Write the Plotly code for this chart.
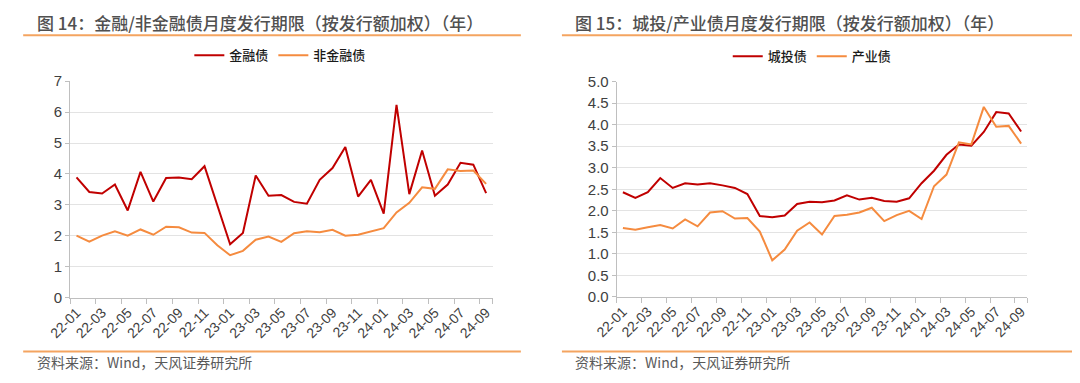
import plotly.graph_objects as go

months = ["22-01","22-02","22-03","22-04","22-05","22-06","22-07","22-08","22-09","22-10","22-11","22-12",
          "23-01","23-02","23-03","23-04","23-05","23-06","23-07","23-08","23-09","23-10","23-11","23-12",
          "24-01","24-02","24-03","24-04","24-05","24-06","24-07","24-08","24-09"]

fin = [3.89,3.42,3.37,3.66,2.82,4.07,3.11,3.87,3.89,3.83,4.25,2.99,
       1.73,2.10,3.95,3.30,3.32,3.10,3.04,3.81,4.19,4.87,3.27,3.81,
       2.72,6.23,3.35,4.76,3.30,3.66,4.36,4.30,3.38]
nonfin = [2.01,1.82,2.01,2.15,2.01,2.21,2.04,2.30,2.28,2.11,2.10,1.70,
          1.38,1.52,1.88,1.98,1.81,2.09,2.15,2.12,2.20,2.01,2.04,2.14,
          2.25,2.76,3.07,3.57,3.52,4.15,4.10,4.11,3.68]
chengtou = [2.43,2.30,2.43,2.76,2.53,2.64,2.61,2.64,2.59,2.53,2.39,1.88,
            1.85,1.89,2.16,2.21,2.20,2.24,2.36,2.26,2.30,2.23,2.21,2.29,
            2.64,2.93,3.30,3.54,3.51,3.83,4.29,4.26,3.84]
chanye = [1.60,1.56,1.62,1.67,1.59,1.80,1.64,1.96,1.99,1.82,1.83,1.52,
          0.85,1.10,1.54,1.73,1.45,1.88,1.91,1.96,2.07,1.76,1.90,2.00,
          1.81,2.57,2.84,3.59,3.54,4.41,3.95,3.97,3.56]

titles = ["图 14：金融/非金融债月度发行期限（按发行额加权）（年）",
          "图 15：城投/产业债月度发行期限（按发行额加权）（年）"]
source = "资料来源：Wind，天风证券研究所"

RED = "#C00000"
ORANGE = "#F58B3F"
FONT = "Liberation Sans, Noto Sans CJK SC"
CJK = "Noto Sans CJK SC"

W, H = 1080, 383
OFF = 8  # page body margin
idx = list(range(len(months)))
tick_idx = idx[::2]
tick_txt = months[::2]

fig = go.Figure()
fig.add_trace(go.Scatter(x=idx, y=fin, name="金融债", mode="lines",
                         line=dict(color=RED, width=2), xaxis="x", yaxis="y", legend="legend"))
fig.add_trace(go.Scatter(x=idx, y=nonfin, name="非金融债", mode="lines",
                         line=dict(color=ORANGE, width=2), xaxis="x", yaxis="y", legend="legend"))
fig.add_trace(go.Scatter(x=idx, y=chengtou, name="城投债", mode="lines",
                         line=dict(color=RED, width=2), xaxis="x2", yaxis="y2", legend="legend2"))
fig.add_trace(go.Scatter(x=idx, y=chanye, name="产业债", mode="lines",
                         line=dict(color=ORANGE, width=2), xaxis="x2", yaxis="y2", legend="legend2"))

def px(v):
    return (v - OFF) / W
def py(v):
    return 1 - (v - OFF) / H

xcommon = dict(range=[-0.5, len(months) - 0.5], tickmode="array", tickvals=tick_idx, ticktext=tick_txt,
               tickangle=-45, ticks="", showgrid=False, zeroline=False, showline=True,
               linecolor="#BFBFBF", linewidth=1, tickfont=dict(family=FONT, size=14, color="#404040"),
               minor=dict(tickvals=[i - 0.5 for i in tick_idx] + [len(months) - 0.5], ticks="outside",
                          ticklen=5, tickcolor="#BFBFBF", showgrid=False),
               fixedrange=True)
ycommon = dict(showgrid=True, gridcolor="#E3E3E3", gridwidth=1, zeroline=False, showline=True,
               linecolor="#BFBFBF", linewidth=1, ticks="outside", ticklen=4, tickcolor="#BFBFBF",
               tickfont=dict(family=FONT, size=15, color="#404040"), fixedrange=True)

fig.update_layout(
    width=W, height=H, margin=dict(l=0, r=0, t=0, b=0),
    paper_bgcolor="white", plot_bgcolor="white",
    xaxis=dict(domain=[px(48), px(480)], anchor="y", **xcommon),
    yaxis=dict(domain=[py(302), py(75)], anchor="x", range=[0, 7], dtick=1, **ycommon),
    xaxis2=dict(domain=[px(607), px(1027)], anchor="y2", **xcommon),
    yaxis2=dict(domain=[py(301), py(75.5)], anchor="x2", range=[0, 5], dtick=0.5, tickformat=".1f", **ycommon),
    legend=dict(orientation="h", x=px(263), y=py(48), xanchor="center", yanchor="middle",
                font=dict(family=CJK, size=13, color="#1a1a1a", weight=500), itemwidth=30,
                bgcolor="rgba(0,0,0,0)"),
    legend2=dict(orientation="h", x=px(807), y=py(49), xanchor="center", yanchor="middle",
                 font=dict(family=CJK, size=13, color="#1a1a1a", weight=500), itemwidth=30,
                 bgcolor="rgba(0,0,0,0)"),
    showlegend=True,
)

# titles
fig.add_annotation(text=titles[0], x=px(12), y=py(14), xref="paper", yref="paper",
                   xanchor="left", yanchor="middle", showarrow=False,
                   font=dict(family=CJK, size=17, color="#505050", weight=500))
fig.add_annotation(text=titles[1], x=px(562), y=py(14), xref="paper", yref="paper",
                   xanchor="left", yanchor="middle", showarrow=False,
                   font=dict(family=CJK, size=17, color="#505050", weight=500))
# sources
fig.add_annotation(text=source, x=px(12), y=py(369), xref="paper", yref="paper",
                   xanchor="left", yanchor="middle", showarrow=False,
                   font=dict(family=CJK, size=14, color="#595959"))
fig.add_annotation(text=source, x=px(562), y=py(369), xref="paper", yref="paper",
                   xanchor="left", yanchor="middle", showarrow=False,
                   font=dict(family=CJK, size=14, color="#595959"))

# orange rules
RULE = "#F4A460"
for x0, x1 in [(0, 509), (551, 1080)]:
    for yy in [27, 358]:
        fig.add_shape(type="line", xref="paper", yref="paper", x0=px(x0), x1=px(x1),
                      y0=py(yy), y1=py(yy), line=dict(color=RULE, width=2))

fig.write_html("out.html")
